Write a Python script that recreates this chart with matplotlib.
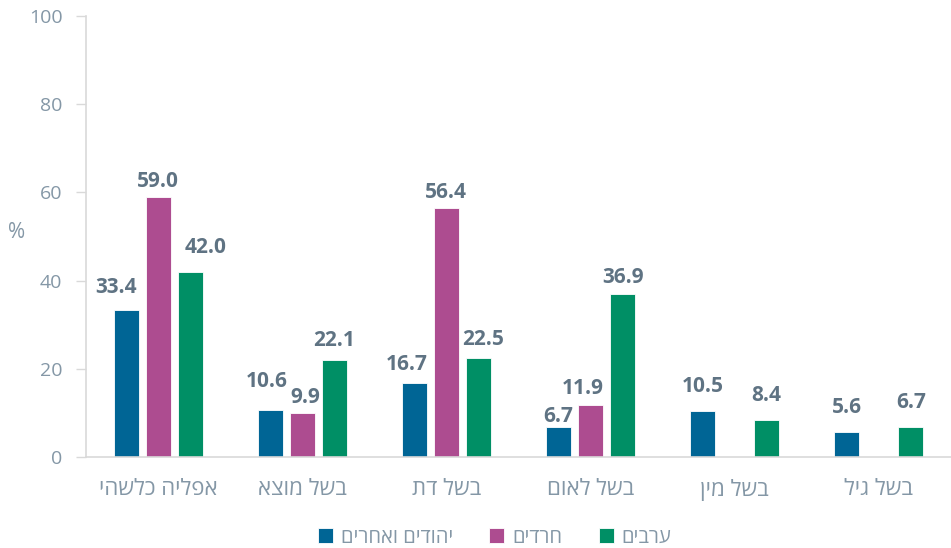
import numpy as np
import matplotlib.pyplot as plt

plt.rcParams['font.family'] = ['Open Sans', 'DejaVu Sans']

# Hebrew strings are stored in logical order and reversed for display
categories = ["אפליה כלשהי", "בשל מוצא", "בשל דת", "בשל לאום", "בשל מין", "בשל גיל"]
series_names = ["יהודים ואחרים", "חרדים", "ערבים"]
jews = [33.4, 10.6, 16.7, 6.7, 10.5, 5.6]
haredim = [59.0, 9.9, 56.4, 11.9, None, None]
arabs = [42.0, 22.1, 22.5, 36.9, 8.4, 6.7]
colors = ["#006595", "#ad4c90", "#008f65"]

# label nudges in pixels (dx, gap above bar) so neighbouring labels don't collide
label_dx = [[-10, -4, -8, 0, 0, 0], [0, 3, 0, -8, 0, 0], [16, 0, 5, 0, 0, 0]]
label_gap = [[17, 23, 13, 5, 19, 19], [10, 10, 10, 11, 0, 0], [19, 14, 13, 11, 19, 19]]

def heb(s):
    return s[::-1]

fig = plt.figure(figsize=(9.51, 5.48), dpi=100)
ax = fig.add_axes([0.0904, 0.166, 0.9096, 0.805])

x = np.arange(len(categories))
step = 0.222
width = 0.174
label_col = "#5f7383"
tick_col = "#8497a6"
px = 72 / fig.dpi

handles = []
for i, (vals, c, name) in enumerate(zip([jews, haredim, arabs], colors, series_names)):
    for j, v in enumerate(vals):
        if v is None:
            continue
        b = ax.bar(x[j] + (i - 1) * step, v, width=width, color=c, edgecolor="white",
                   linewidth=0.6, label=heb(name))
        ax.annotate(f"{v:.1f}", (x[j] + (i - 1) * step, v),
                    xytext=(label_dx[i][j] * px, label_gap[i][j] * px),
                    textcoords="offset points", ha="center", va="baseline",
                    fontsize=15, fontweight="bold", color=label_col)
    handles.append(b)

ax.set_xlim(-0.5, len(categories) - 0.5)
ax.set_ylim(0, 100)
ax.set_yticks(range(0, 101, 20))
ax.set_xticks(x)
ax.set_xticklabels([heb(c) for c in categories], fontsize=16, color=tick_col)
ax.tick_params(axis="y", labelsize=14, labelcolor=tick_col, color="#d9d9d9",
               length=7, width=1, pad=10)
ax.tick_params(axis="x", length=0, pad=16)

for s in ["top", "right"]:
    ax.spines[s].set_visible(False)
ax.spines["left"].set_color("#d9d9d9")
ax.spines["bottom"].set_color("#d9d9d9")
ax.spines["left"].set_linewidth(1.2)
ax.spines["bottom"].set_linewidth(1.2)

fig.text(0.008, 0.575, "%", fontsize=15, color=tick_col, ha="left", va="center")

fig.legend(handles=handles, loc="center", bbox_to_anchor=(0.52, 0.019), ncol=3,
           frameon=False, fontsize=14.5, labelcolor=tick_col, handlelength=0.75,
           handleheight=0.75, handletextpad=0.4, columnspacing=1.8)

fig.savefig("out.png", dpi=100)
